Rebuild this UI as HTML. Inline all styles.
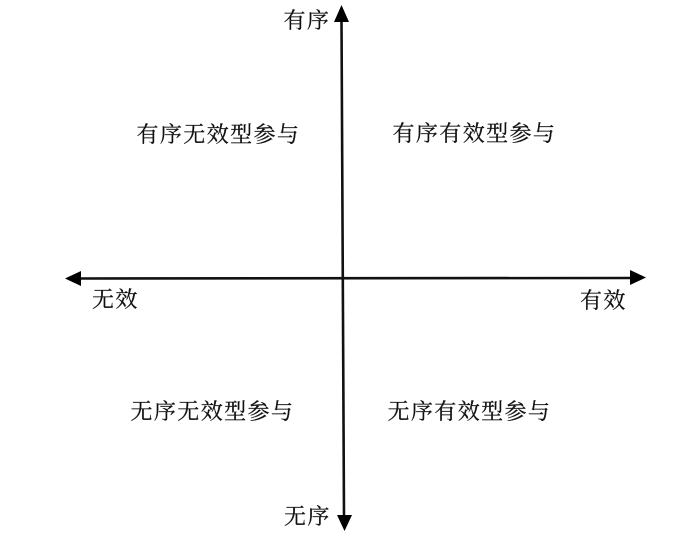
<!DOCTYPE html>
<html lang="zh">
<head>
<meta charset="utf-8">
<style>
html,body{margin:0;padding:0;background:#fff}
body{width:700px;height:538px;overflow:hidden;position:relative}
svg{position:absolute;left:0;top:0;filter:blur(.35px)}
text{font-family:"Liberation Serif","Noto Serif CJK SC",serif;font-size:22px;fill:#111;stroke:#111;stroke-width:.25px;letter-spacing:1.4px}
</style>
</head>
<body>
<svg width="700" height="538" viewBox="0 0 700 538" xmlns="http://www.w3.org/2000/svg">
<line x1="341.5" y1="20" x2="344" y2="517" stroke="#111" stroke-width="2.6"/>
<line x1="78" y1="278.5" x2="632" y2="278" stroke="#111" stroke-width="2.6"/>
<polygon points="341.5,5 349,22 334,22" fill="#000"/>
<polygon points="344.5,531 337,515 352,515" fill="#000"/>
<polygon points="65,278.5 81,271 81,286" fill="#000"/>
<polygon points="646,277.5 630,270 630,285" fill="#000"/>
<text x="283.5" y="28">有序</text>
<text x="284" y="524">无序</text>
<text x="92" y="307">无效</text>
<text x="580" y="308">有效</text>
<text x="136.5" y="142">有序无效型参与</text>
<text x="392.5" y="141">有序有效型参与</text>
<text x="130.5" y="419">无序无效型参与</text>
<text x="387.5" y="419">无序有效型参与</text>
</svg>
</body>
</html>
